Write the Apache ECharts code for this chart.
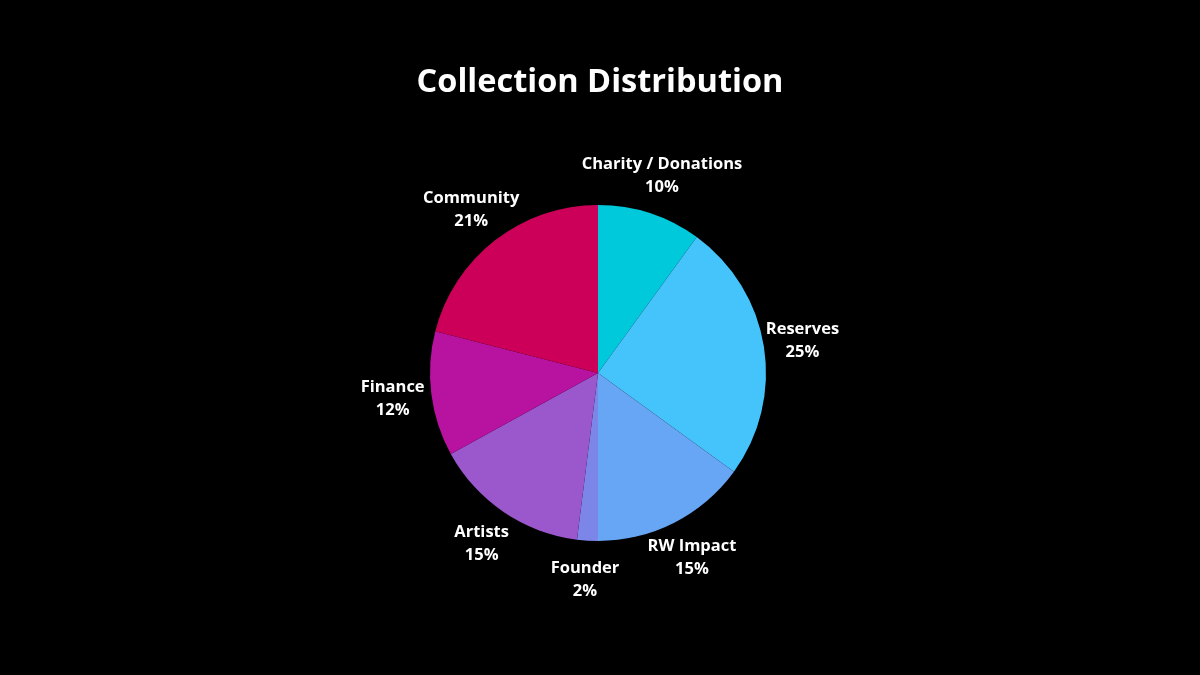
<!DOCTYPE html>
<html><head><meta charset="utf-8">
<script src="https://cdn.jsdelivr.net/npm/echarts@6/dist/echarts.min.js"></script>
<style>html,body{margin:0;padding:0;background:#000;}#c{width:1200px;height:675px;}</style>
</head><body><div id="c"></div>
<script>
const categories = ['Charity / Donations','Reserves','RW Impact','Founder','Artists','Finance','Community'];
const values = [10,25,15,2,15,12,21];
const colors = ['#00c9db','#45c3fb','#66a6f5','#7b86e8','#9b57cc','#b812a0','#cc0058'];

const chart = echarts.init(document.getElementById('c'));
const pieData = categories.map((n,i)=>({name:n,value:values[i],itemStyle:{color:colors[i]}}));
const labelData = categories.map((n,i)=>({name:n,value:values[i]}));
chart.setOption({
  backgroundColor:'#000',
  title:{text:'Collection Distribution',left:'center',top:61,
    textStyle:{color:'#fff',fontFamily:'Open Sans',fontWeight:'bold',fontSize:32.5}},
  series:[
    {type:'pie',center:[598,373],radius:[168,240],startAngle:90,silent:true,z:1,
     data:labelData,itemStyle:{color:'rgba(0,0,0,0)'},
     label:{show:true,position:'inside',color:'#fff',fontFamily:'Open Sans',fontWeight:'bold',fontSize:16.5,lineHeight:23,
       formatter:p=>p.name+'\n'+p.value+'%'},
     labelLine:{show:false}},
    {type:'pie',center:[598,373],radius:[0,168],startAngle:90,z:2,
     data:pieData,label:{show:false},labelLine:{show:false},itemStyle:{borderWidth:0}}
  ]
});
</script></body></html>
